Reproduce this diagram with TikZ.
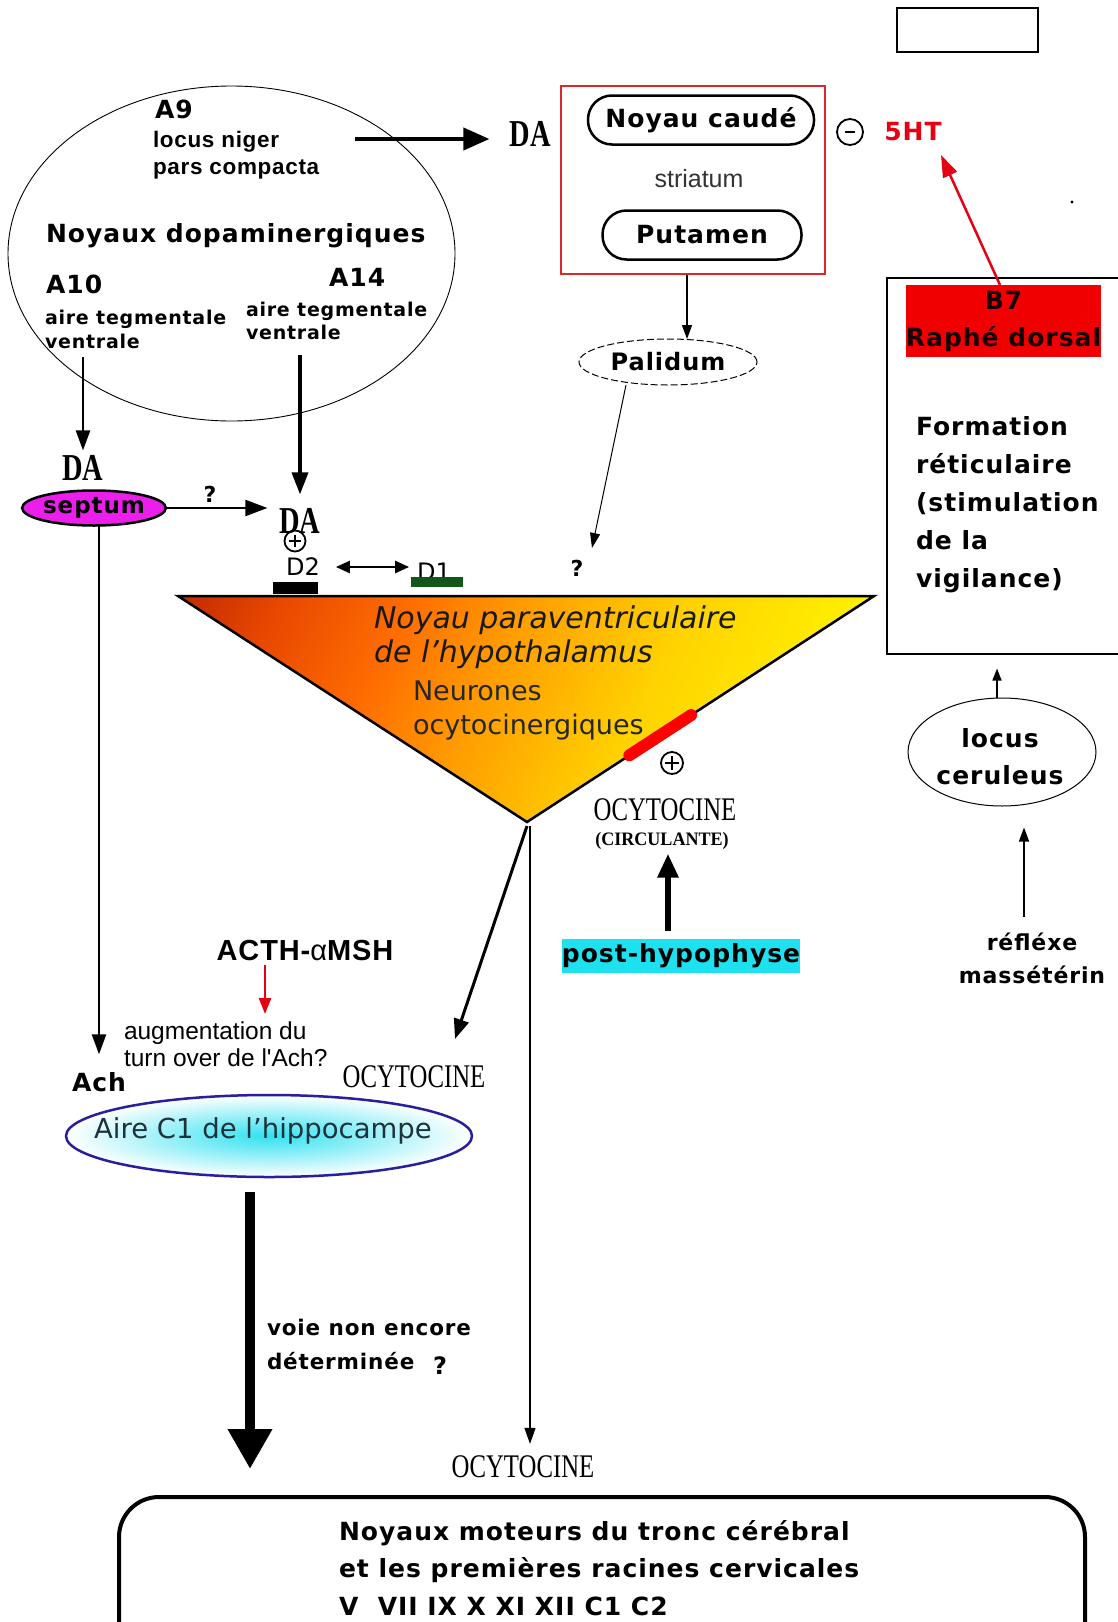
\documentclass[tikz,border=0pt]{standalone}
\usepackage{fontspec}
\setmainfont{DejaVu Sans}
\newfontfamily\dvsp{DejaVu Sans}[LetterSpace=4]
\newfontfamily\arialf{Liberation Sans}
\newfontfamily\arialsp{Liberation Sans}[LetterSpace=3]
\newfontfamily\lserif{Liberation Serif}
\usetikzlibrary{arrows.meta,shapes.geometric,calc}
\newcommand{\setfs}[2]{\fontsize{#1}{#2}\selectfont}
\newcommand{\cond}[2]{\scalebox{#1}[1]{#2}}
\definecolor{septmag}{RGB}{235,30,235}
\definecolor{cyanbg}{RGB}{30,225,240}
\definecolor{b7red}{RGB}{240,0,0}
\definecolor{htred}{RGB}{230,0,20}
\definecolor{dgreen}{RGB}{20,85,25}
\definecolor{hippoblue}{RGB}{40,30,160}
\definecolor{hippocyan}{RGB}{50,225,240}
\definecolor{hippotext}{RGB}{30,50,60}
\definecolor{strred}{RGB}{220,40,40}
\definecolor{triA}{RGB}{190,40,0}
\definecolor{triA2}{RGB}{232,72,0}
\definecolor{triB1}{RGB}{255,108,0}
\definecolor{triB}{RGB}{255,155,0}
\definecolor{triC2}{RGB}{255,210,0}
\definecolor{triC}{RGB}{255,242,0}
\pgfdeclarehorizontalshading{trishade}{100bp}{color(0bp)=(triA); color(25bp)=(triA); color(33bp)=(triA2); color(42bp)=(triB1); color(50bp)=(triB); color(62bp)=(triC2); color(75bp)=(triC); color(100bp)=(triC)}
\tikzset{
  t/.style={inner sep=0pt, outer sep=0pt},
  bf/.style 2 args={t, font=\dvsp\bfseries\setfs{#1}{#2}},
  rg/.style 2 args={t, font=\setfs{#1}{#2}},
  ar/.style 2 args={t, font=\arialsp\bfseries\setfs{#1}{#2}},
  arr/.style 2 args={t, font=\arialf\setfs{#1}{#2}},
  tnr/.style 2 args={t, font=\lserif\setfs{#1}{#2}},
  tnrb/.style 2 args={t, font=\lserif\bfseries\setfs{#1}{#2}},
  pill/.style={draw, line width=2.5pt, rounded corners=24pt, minimum height=49pt},
  oplus/.style={circle, draw, line width=1.8pt, minimum size=#1, inner sep=0pt,
    path picture={\draw[line width=2pt] ([xshift=-0.3*#1]path picture bounding box.center) -- ([xshift=0.3*#1]path picture bounding box.center);
                  \draw[line width=2pt] ([yshift=-0.3*#1]path picture bounding box.center) -- ([yshift=0.3*#1]path picture bounding box.center);}},
  ominus/.style={circle, draw, line width=1.8pt, minimum size=#1, inner sep=0pt,
    path picture={\draw[line width=2pt] ([xshift=-0.2*#1]path picture bounding box.center) -- ([xshift=0.2*#1]path picture bounding box.center);}},
  tip/.style 2 args={-{Triangle[length=#1pt,width=#2pt]}},
}
\begin{document}
\begin{tikzpicture}[x=1pt,y=-1pt]
\useasboundingbox (0,0) rectangle (1117,1622);
\fill[white] (0,0) rectangle (1117,1622);

% empty box top right
\node[draw, line width=1.5pt, minimum width=141pt, minimum height=44pt] (topbox) at (967.5,30) {};

% dopaminergic nuclei
\node[draw, ellipse, line width=0.9pt, minimum width=447pt, minimum height=335pt] (dopa) at (231.5,253.5) {};
\node[bf={25}{30}, anchor=west] (a9) at (155,109) {A9};
\node[ar={22.5}{27}, anchor=west, align=left] (niger) at (153,155) {locus niger\\pars compacta};
\node[bf={25}{30}, anchor=west] (noyd) at (46,236) {Noyaux dopaminergiques};
\node[bf={25}{30}, anchor=west] (a10) at (46,284) {A10};
\node[bf={19}{24}, anchor=west, align=left] (atv1) at (45,329) {aire tegmentale\\ventrale};
\node[bf={25}{30}, anchor=west] (a14) at (329,277) {A14};
\node[bf={19}{23}, anchor=west, align=left] (atv2) at (246,321) {aire tegmentale\\ventrale};

% DA labels
\node[tnrb={38}{40}] (daS) at (530,134) {\cond{0.75}{DA}};
\node[tnrb={38}{40}] (da1) at (83,468) {\cond{0.75}{DA}};
\node[tnrb={38}{40}] (da2) at (300,521) {\cond{0.75}{DA}};

% A9 arrow
\coordinate (a9s) at (355,139);
\draw[line width=4pt, tip={26}{22}, shorten >=20pt] (a9s) -- (daS.west |- a9s);

% A10 arrow
\coordinate (a10s) at (83,357);
\draw[line width=2.5pt, tip={20}{14}, shorten >=5pt] (a10s) -- (da1.north);

% A14 arrow
\coordinate (a14s) at (300,355);
\draw[line width=3.5pt, tip={22}{16}, shorten >=14pt] (a14s) -- (da2.north);

% septum
\node[ellipse, draw, line width=2.5pt, fill=septmag, minimum width=136pt, minimum height=35pt, bf={23}{28}] (septum) at (94,508) {septum};
\draw[line width=2pt, tip={22}{16}, shorten >=12pt] (septum.east) -- (da2.west |- septum.east);
\node[bf={22}{26}] (q1) at (210,494) {?};

% plus under DA, D2, D1
\node[oplus=21pt] (plusda) at (295,541) {};
\node[rg={24}{28}] (d2) at (303,567) {D2};
\node[rg={24}{28}] (d1) at (434,572) {D1};
\draw[line width=2.5pt, {Triangle[length=14pt,width=12pt]}-{Triangle[length=14pt,width=12pt]}, shorten <=16pt, shorten >=8pt] (d2.east) -- (d1.west |- d2.east);

% triangle
\coordinate (tl) at (178,596);
\coordinate (tr) at (874,596);
\coordinate (tb) at (527,822);
\begin{scope}
  \clip (tl) -- (tr) -- (tb) -- cycle;
  \begin{scope}[transform canvas={rotate around={-25:(526,709)}}]
    \shade[shading=trishade] (156,209) rectangle (796,1209);
  \end{scope}
\end{scope}
\draw[line width=2.5pt, line join=miter] (tl) -- (tr) -- (tb) -- cycle;
\node[fill=black, minimum width=45pt, minimum height=12pt, inner sep=0pt] (d2bar) at (295.5,588) {};
\node[fill=dgreen, minimum width=52pt, minimum height=10pt, inner sep=0pt] (d1bar) at (437,582) {};
\node[t, font=\itshape\setfs{30}{34}, anchor=west, align=left, text=black!90] (npv) at (374,637) {Noyau paraventriculaire\\de l’hypothalamus};
\node[rg={27}{34}, anchor=west, align=left, text=black!85] (neur) at (413,710) {Neurones\\ocytocinergiques};

% red receptor bar
\coordinate (redA) at ($(tr)!0.527!(tb)$);
\coordinate (redB) at ($(tr)!0.705!(tb)$);
\draw[red, line width=12pt, line cap=round] (redA) -- (redB);
\node[oplus=22pt] (plus2) at (672,763) {};

% circulating oxytocin
\node[tnr={33}{36}] (ocy1) at (665,810) {\cond{0.75}{OCYTOCINE}};
\node[tnrb={19}{22}] (circ) at (662,841) {\cond{0.95}{(CIRCULANTE)}};
\node[fill=cyanbg, minimum width=234pt, minimum height=34pt, bf={25}{30}] (posthyp) at (681,956) {post-hypophyse};
\draw[line width=6pt, tip={24}{20}, shorten <=8pt, shorten >=4pt] ([xshift=-13pt]posthyp.north) -- ([xshift=-13pt]posthyp.north |- circ.south);

% outputs from triangle tip
\node[tnr={33}{36}] (ocy2) at (414,1077) {\cond{0.75}{OCYTOCINE}};
\node[tnr={33}{36}] (ocy3) at (523,1467) {\cond{0.75}{OCYTOCINE}};
\coordinate (dgtip) at (455,1039);
\draw[line width=3pt, tip={20}{15}] ([yshift=-4pt]tb) -- (dgtip);
\coordinate (vtop) at (530,826);
\draw[line width=1.2pt, tip={16}{11}, shorten >=12pt] (vtop) -- (vtop |- ocy3.north);

% striatum
\node[draw=strred, line width=1.5pt, minimum width=264pt, minimum height=188pt] (striatum) at (693,180) {};
\node[pill, minimum width=226pt, bf={25}{30}] (caude) at (701,120) {Noyau caudé};
\node[t, font=\arialf\setfs{25}{30}, text=black!80] (strt) at (699,179) {striatum};
\node[pill, minimum width=199pt, bf={25}{30}] (putamen) at (702,235) {Putamen};

% palidum
\node[ellipse, draw, dash pattern=on 7pt off 3pt, line width=1pt, minimum width=178pt, minimum height=46pt, bf={24}{28}] (palidum) at (668,362) {Palidum};
\draw[line width=1.5pt, tip={14}{10}] ([xshift=-6pt]striatum.south) -- ([xshift=-6pt]striatum.south |- palidum.north);
\coordinate (palq) at (592,548);
\draw[line width=1pt, tip={15}{10}] ([xshift=-42pt]palidum.south) -- (palq);
\node[bf={22}{26}] (q2) at (577,568) {?};

% 5HT
\node[ominus=26pt] (minus) at (850,132) {};
\node[bf={25}{30}, text=htred] (ht) at (913,132) {5HT};

% formation reticulaire
\node[draw, line width=1.5pt, minimum width=240pt, minimum height=376pt, anchor=north west] (formbox) at (886,277) {};
\node[fill=b7red, minimum width=195pt, minimum height=72pt, bf={25}{37}, align=center, text=black!90!red] (b7) at (1003.5,321) {B7\\Raphé dorsal};
\coordinate (htip) at (941,155);
\draw[htred, line width=2.5pt, tip={22}{15}] ([xshift=-3.5pt]b7.north) -- (htip);
\fill (1072,202) circle (1.6pt);
\node[bf={25}{38}, anchor=west, align=left] (formt) at (916,505) {Formation\\réticulaire\\(stimulation\\de la\\vigilance)};

% locus ceruleus
\node[ellipse, draw, line width=1pt, minimum width=188pt, minimum height=108pt] (lc) at (1002,752) {};
\node[bf={25}{37}, align=center] (lct) at (1000,757) {locus\\ceruleus};
\draw[line width=1.5pt, tip={12}{9}, shorten >=14pt] ([xshift=-5pt]lc.north) -- ([xshift=-5pt]lc.north |- formbox.south);
\node[bf={22}{33}, align=center] (reflexe) at (1032,958) {réfléxe\\massétérin};
\draw[line width=1.5pt, tip={14}{10}, shorten <=16pt, shorten >=21pt] ([xshift=-8pt]reflexe.north) -- ([xshift=-8pt]reflexe.north |- lc.south);

% septum down to Ach
\node[bf={25}{30}] (ach) at (99,1082) {Ach};
\draw[line width=2.5pt, tip={20}{14}, shorten >=18pt] ([xshift=5pt]septum.south) -- ([xshift=5pt]septum.south |- ach.north);

% ACTH
\node[ar={29}{32}] (acth) at (305,951) {ACTH-{\mdseries α}MSH};
\coordinate (acthtip) at (265,1014);
\draw[htred, line width=2.5pt, tip={16}{12}, shorten <=4pt] (acth.south -| acthtip) -- (acthtip);
\node[arr={24.5}{27}, anchor=west, align=left] (augm) at (124,1044) {augmentation du\\turn over de l'Ach?};

% hippocampus
\node[ellipse, draw=hippoblue, line width=2.5pt, inner color=hippocyan, outer color=white, minimum width=406pt, minimum height=82pt] (hippo) at (269,1136) {};
\node[rg={27.5}{30}, text=hippotext] (hippot) at (263,1131) {Aire C1 de l’hippocampe};
\coordinate (bigtip) at (250,1469);
\draw[line width=10pt, tip={40}{42}, shorten <=14pt] (hippo.south -| bigtip) -- (bigtip);
\node[bf={21.5}{34}, anchor=west, align=left] (voie) at (267,1344) {voie non encore\\déterminée};
\node[bf={24}{28}] (q3) at (440,1366) {?};

% motor nuclei box
\node[draw, line width=4pt, rounded corners=40pt, minimum width=966pt, minimum height=170pt, anchor=north west] (motor) at (117,1495) {};
\node[bf={25}{37.5}, anchor=west, align=left] (motort) at (339,1568) {Noyaux moteurs du tronc cérébral\\et les premières racines cervicales\\V\ \ VII IX X XI XII C1 C2};
\end{tikzpicture}
\end{document}
